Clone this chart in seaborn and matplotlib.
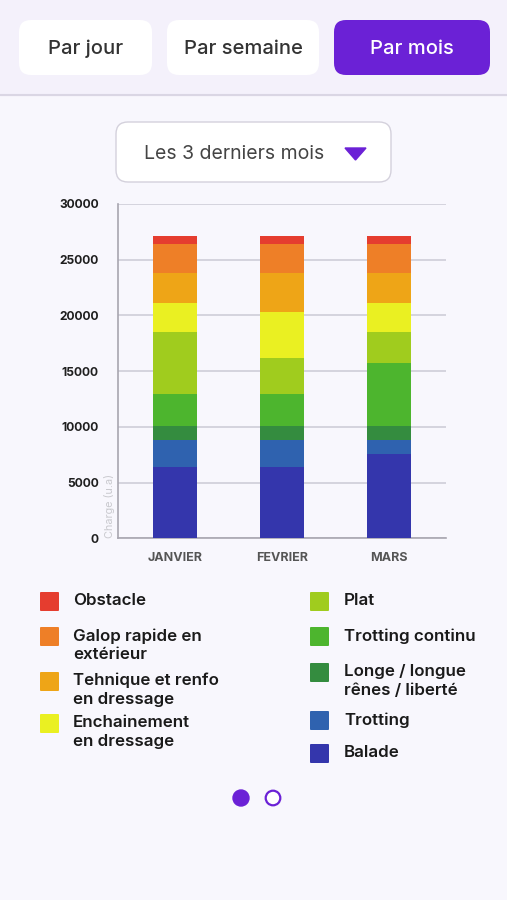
import matplotlib
matplotlib.use("Agg")
import matplotlib.pyplot as plt
from matplotlib.patches import FancyBboxPatch, Rectangle, Circle, Polygon
import seaborn as sns
import pandas as pd
import numpy as np

# data
mois = ["JANVIER", "FEVRIER", "MARS"]
types = ["Balade", "Trotting", "Longe / longue\nrênes / liberté", "Trotting continu", "Plat",
         "Enchainement\nen dressage", "Tehnique et renfo\nen dressage", "Galop rapide en\nextérieur", "Obstacle"]
balade = [6400, 6400, 7600]
trotting = [2400, 2400, 1200]
longe = [1300, 1300, 1300]
trotting_continu = [2850, 2850, 5650]
plat = [5550, 3200, 2750]
enchainement = [2650, 4150, 2650]
technique = [2650, 3500, 2650]
galop = [2600, 2600, 2600]
obstacle = [700, 700, 700]

couleurs = ["#3436AC", "#2F62AF", "#348C3F", "#4DB52E", "#A0CC1E",
            "#EAF022", "#EEA517", "#EE7F27", "#E53D2F"]

series = [balade, trotting, longe, trotting_continu, plat, enchainement, technique, galop, obstacle]
df = pd.DataFrame({t: v for t, v in zip(types, series)}, index=mois)
cumul = df.cumsum(axis=1)

PURPLE = "#6B21D6"
BG = "#F8F7FD"
W, H = 507, 900

sns.set_style("white")
plt.rcParams["font.family"] = ["Inter", "DejaVu Sans"]

fig = plt.figure(figsize=(W / 100, H / 100), dpi=100)
fig.patch.set_facecolor(BG)

# background "app" layer in pixel coords
bg = fig.add_axes([0, 0, 1, 1])
bg.set_xlim(0, W)
bg.set_ylim(H, 0)
bg.axis("off")
bg.add_patch(Rectangle((0, 0), W, 95, color="#F4F1FB", zorder=0))
bg.plot([0, W], [95, 95], color="#DAD6E4", lw=1.5, zorder=1)

def box(x0, y0, x1, y1, fc, ec="none", r=12):
    bg.add_patch(FancyBboxPatch((x0 + r, y0 + r), x1 - x0 - 2 * r, y1 - y0 - 2 * r,
                                boxstyle="round,pad=%d" % r, fc=fc, ec=ec, lw=1, zorder=2))

box(19, 20, 152, 75, "white")
box(167, 20, 319, 75, "white")
box(334, 20, 490, 75, PURPLE)
bg.text(85.5, 49, "Par jour", ha="center", va="center", fontsize=14.5, color="#333333", fontweight="medium", zorder=3)
bg.text(243, 49, "Par semaine", ha="center", va="center", fontsize=14.5, color="#333333", fontweight="medium", zorder=3)
bg.text(412, 49, "Par mois", ha="center", va="center", fontsize=14.5, color="white", fontweight="medium", zorder=3)

box(116, 122, 391, 182, "white", ec="#D4D1DC")
bg.text(234, 154, "Les 3 derniers mois", ha="center", va="center", fontsize=14, color="#444444", zorder=3)
bg.add_patch(Polygon([[345, 148], [366, 148], [355.5, 160]], closed=True, color=PURPLE, zorder=3))

# legend
gauche = [("Obstacle", 601, 8), ("Galop rapide en\nextérieur", 636, 7),
          ("Tehnique et renfo\nen dressage", 681, 6), ("Enchainement\nen dressage", 723, 5)]
droite = [("Plat", 601, 4), ("Trotting continu", 636, 3),
          ("Longe / longue\nrênes / liberté", 672, 2), ("Trotting", 720, 1), ("Balade", 753, 0)]
for items, xs, xt in [(gauche, 40, 73), (droite, 310, 344)]:
    for lab, y, k in items:
        bg.add_patch(FancyBboxPatch((xs + 1, y - 8), 17, 17, boxstyle="round,pad=1",
                                    fc=couleurs[k], ec="none", zorder=3))
        bg.text(xt, y - 8, lab, ha="left", va="top", fontsize=12.2, color="#1A1A1A",
                fontweight="semibold", linespacing=1.3, zorder=3)

bg.add_patch(Circle((241, 798), 8, color=PURPLE, zorder=3))
bg.add_patch(Circle((273, 798), 7.3, fc="white", ec=PURPLE, lw=1.6, zorder=3))

# chart
ax = fig.add_axes([118.3 / W, 361.7 / H, 327.4 / W, 334.3 / H])
ax.set_facecolor("none")
for i in range(len(types) - 1, -1, -1):
    d = pd.DataFrame({"mois": mois, "val": cumul[types[i]].values})
    sns.barplot(data=d, x="mois", y="val", order=mois, color=couleurs[i],
                width=0.42, saturation=1, ax=ax, zorder=3, edgecolor="none", linewidth=0)

ax.set_xlim(-0.53, 2.53)
ax.set_ylim(0, 30000)
ax.set_yticks(np.arange(0, 30001, 5000))
ax.yaxis.grid(True, color="#CFCDD8", lw=1.2, zorder=0)
ax.set_axisbelow(True)
for s in ["top", "right"]:
    ax.spines[s].set_visible(False)
for s in ["left", "bottom"]:
    ax.spines[s].set_color("#A8A6B0")
    ax.spines[s].set_linewidth(1.2)
ax.tick_params(axis="y", length=0, pad=14, labelsize=8.7, labelcolor="#1F1F1F")
ax.tick_params(axis="x", length=0, pad=10, labelsize=9, labelcolor="#555555")
for t in ax.get_yticklabels() + ax.get_xticklabels():
    t.set_fontweight("bold")
ax.set_xlabel("")
ax.set_ylabel("")
ax.text(-0.027, 0.0, "Charge (u.a)", transform=ax.transAxes, rotation=90, ha="center",
        va="bottom", fontsize=7.8, color="#C9C9CE")

fig.savefig("out.png", dpi=100, facecolor=fig.get_facecolor())
